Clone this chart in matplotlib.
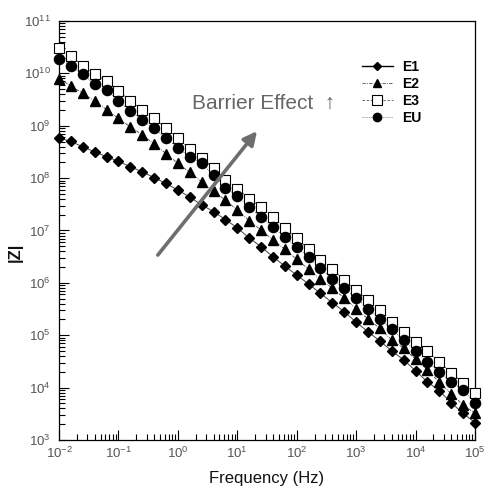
import matplotlib
matplotlib.use("Agg")
import matplotlib.pyplot as plt
from matplotlib.lines import Line2D
from matplotlib.ticker import FixedLocator, FuncFormatter, NullFormatter
import math

plt.rcParams['font.family'] = ['Liberation Sans', 'DejaVu Sans']
plt.rcParams['mathtext.fontset'] = 'custom'
plt.rcParams['mathtext.rm'] = 'Liberation Sans'
plt.rcParams['mathtext.it'] = 'Liberation Sans:italic'
plt.rcParams['mathtext.bf'] = 'Liberation Sans:bold'

# ---- data ----
freq = [0.01, 0.0158, 0.0251, 0.0398, 0.0631, 0.1, 0.158, 0.251, 0.398, 0.631,
        1, 1.58, 2.51, 3.98, 6.31, 10, 15.8, 25.1, 39.8, 63.1,
        100, 158, 251, 398, 631, 1000, 1580, 2510, 3980, 6310,
        1e4, 1.58e4, 2.51e4, 3.98e4, 6.31e4, 1e5]

z_e1 = [5.89e8, 5.01e8, 3.98e8, 3.16e8, 2.57e8, 2.09e8, 1.66e8, 1.32e8, 1.02e8, 7.94e7,
        5.89e7, 4.37e7, 3.09e7, 2.29e7, 1.62e7, 1.12e7, 7.24e6, 4.90e6, 3.16e6, 2.09e6,
        1.41e6, 9.55e5, 6.31e5, 4.17e5, 2.82e5, 1.78e5, 1.17e5, 7.76e4, 5.01e4, 3.39e4,
        2.09e4, 1.29e4, 8.71e3, 5.13e3, 3.24e3, 2.14e3]

z_e2 = [7.94e9, 5.75e9, 4.17e9, 2.95e9, 2.04e9, 1.38e9, 9.55e8, 6.76e8, 4.47e8, 2.95e8,
        1.91e8, 1.29e8, 8.51e7, 5.62e7, 3.80e7, 2.45e7, 1.55e7, 1.02e7, 6.61e6, 4.37e6,
        2.82e6, 1.82e6, 1.17e6, 7.94e5, 5.13e5, 3.24e5, 2.04e5, 1.35e5, 8.13e4, 5.62e4,
        3.47e4, 2.19e4, 1.26e4, 7.59e3, 4.68e3, 3.24e3]

z_e3 = [3.02e10, 2.14e10, 1.41e10, 9.77e9, 7.08e9, 4.57e9, 3.02e9, 2.04e9, 1.38e9, 9.12e8,
        5.75e8, 3.63e8, 2.40e8, 1.55e8, 9.33e7, 6.31e7, 4.07e7, 2.82e7, 1.78e7, 1.10e7,
        7.08e6, 4.37e6, 2.75e6, 1.82e6, 1.12e6, 7.24e5, 4.68e5, 3.02e5, 1.82e5, 1.17e5,
        7.59e4, 4.90e4, 3.09e4, 1.91e4, 1.23e4, 7.94e3]

z_eu = [1.91e10, 1.41e10, 9.55e9, 6.17e9, 4.79e9, 2.95e9, 1.91e9, 1.29e9, 8.91e8, 5.75e8,
        3.80e8, 2.57e8, 1.91e8, 1.15e8, 6.61e7, 4.57e7, 2.82e7, 1.82e7, 1.15e7, 7.41e6,
        4.90e6, 3.09e6, 1.91e6, 1.17e6, 7.94e5, 5.13e5, 3.24e5, 2.04e5, 1.29e5, 8.13e4,
        5.01e4, 3.09e4, 2.00e4, 1.29e4, 8.91e3, 5.13e3]

series_labels = ['E1', 'E2', 'E3', 'EU']

x_major = [1e-2, 1e-1, 1e0, 1e1, 1e2, 1e3, 1e4, 1e5]
y_major = [1e3, 1e4, 1e5, 1e6, 1e7, 1e8, 1e9, 1e10, 1e11]

arrow_start = (0.46, 3.4e6)
arrow_end = (21.5, 7.9e8)
annot_text = 'Barrier Effect  \u2191'
annot_pos = (1.73, 2.7e9)

# ---- figure ----
fig = plt.figure(figsize=(4.85, 4.92), dpi=100)
ax = fig.add_axes([59/485, 1 - 440/492, 416/485, 419/492])
ax.set_xscale('log')
ax.set_yscale('log')
ax.set_xlim(1e-2, 1e5)
ax.set_ylim(1e3, 1e11)

# lines
ax.plot(freq, z_e3, ls=(0, (3, 2)), color='#444', lw=0.6, zorder=2)
ax.plot(freq, z_eu, ls=(0, (1, 1.5)), color='#444', lw=0.6, zorder=2)
ax.plot(freq, z_e2, ls=(0, (4, 1.5, 1, 1.5)), color='#444', lw=0.6, zorder=2)
ax.plot(freq, z_e1, ls='-', color='#444', lw=0.7, zorder=2)

# markers
ax.plot(freq, z_e3, ls='none', marker='s', ms=7.5, mfc='white', mec='black', mew=0.8,
        zorder=3, clip_on=False)
ax.plot(freq, z_eu, ls='none', marker='o', ms=7.3, mfc='black', mec='black',
        zorder=4, clip_on=False)
ax.plot(freq, z_e2, ls='none', marker='^', ms=7.2, mfc='black', mec='black',
        zorder=5, clip_on=False)
ax.plot(freq, z_e1, ls='none', marker='D', ms=5.0, mfc='black', mec='black',
        zorder=6, clip_on=False)

# arrow + text
ax.annotate('', xy=arrow_end, xytext=arrow_start,
            arrowprops=dict(arrowstyle='-|>', color='#6e6e6e', lw=2.6,
                            mutation_scale=20, shrinkA=0, shrinkB=0),
            zorder=7)
ax.text(annot_pos[0], annot_pos[1], annot_text, fontsize=15, color='#666666',
        ha='left', va='center', family=['Liberation Sans', 'DejaVu Sans'])

# legend
handles = [
    Line2D([], [], color='black', lw=1.0, ls='-', marker='D', ms=4.5, mfc='black'),
    Line2D([], [], color='#555', lw=0.6, ls=(0, (4, 1.5, 1, 1.5)), marker='^', ms=6, mfc='black', mec='black'),
    Line2D([], [], color='#555', lw=0.6, ls=(0, (3, 2)), marker='s', ms=7, mfc='white', mec='black', mew=0.8),
    Line2D([], [], color='#555', lw=0.6, ls=(0, (1, 1.5)), marker='o', ms=6, mfc='black', mec='black'),
]
leg = ax.legend(handles, series_labels, loc='upper left',
                bbox_to_anchor=((362 - 59) / 416, (440 - 60) / 419),
                frameon=False, fontsize=10, handlelength=2.2, handletextpad=0.7,
                labelspacing=0.22, borderpad=0, borderaxespad=0)
for t in leg.get_texts():
    t.set_fontweight('bold')

# ticks (only within the visible range)
x_minor = [m * d for d in x_major[:-1] for m in range(2, 10)]
y_minor = [m * d for d in y_major[:-1] for m in range(2, 10)]
ax.xaxis.set_major_locator(FixedLocator(x_major))
ax.yaxis.set_major_locator(FixedLocator(y_major))
ax.xaxis.set_minor_locator(FixedLocator(x_minor))
ax.yaxis.set_minor_locator(FixedLocator(y_minor))
ax.xaxis.set_minor_formatter(NullFormatter())
ax.yaxis.set_minor_formatter(NullFormatter())

def fmt(v, pos):
    e = int(round(math.log10(v)))
    return r'$10^{%d}$' % e

ax.xaxis.set_major_formatter(FuncFormatter(fmt))
ax.yaxis.set_major_formatter(FuncFormatter(fmt))
ax.tick_params(which='both', direction='in', top=False, right=False,
               colors='black', labelcolor='#555555', labelsize=9.5, width=0.8)
ax.tick_params(which='major', length=7)
ax.tick_params(axis='x', which='major', pad=4)
ax.tick_params(axis='y', which='major', pad=6)
ax.tick_params(which='minor', length=4)

for s in ax.spines.values():
    s.set_linewidth(0.9)

ax.set_xlabel('Frequency (Hz)', fontsize=12, color='#111', va='center')
ax.xaxis.set_label_coords(0.5, -(478 - 440) / 419)
ax.set_ylabel('|Z|', fontsize=12, color='#111', fontweight='bold', va='center')
ax.yaxis.set_label_coords(-(59 - 15) / 416, (440 - 252) / 419)

fig.savefig('out.png', dpi=100)
